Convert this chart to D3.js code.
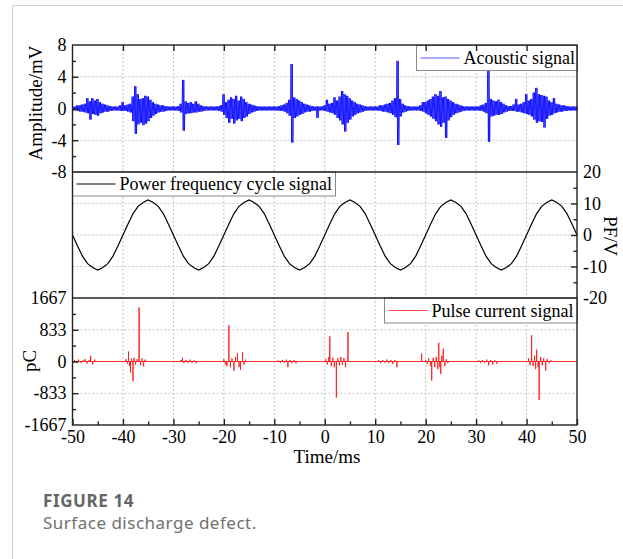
<!DOCTYPE html>
<html>
<head>
<meta charset="utf-8">
<script src="https://cdnjs.cloudflare.com/ajax/libs/d3/7.8.5/d3.min.js"></script>
<style>
  body { margin: 0; background: #fff; }
  svg { display: block; }
</style>
</head>
<body>
<script>
// tick values
const timeTicks = [-50, -40, -30, -20, -10, 0, 10, 20, 30, 40, 50];
const timeMinor = [-45, -35, -25, -15, -5, 5, 15, 25, 35, 45];
const ampTicks = [-8, -4, 0, 4, 8];
const ampMinor = [-6, -2, 2, 6];
const pfTicks = [-20, -10, 0, 10, 20];
const pfMinor = [-15, -5, 5, 15];
const pcTicks = [-1667, -833, 0, 833, 1667];
const pcMinor = [-1250, -417, 417, 1250];

// acoustic signal envelope, one pair per 0.5 ms bin from -50 to 50 ms (mV)
const acousticHi = [
  .25, .25, .4, .4, .5, .6, 1.3, .9, 1.3, 1.0, 1.2, .8, .6, .5, .4, .3, .25, .25, .25, .4,
  .8, .4, .5, .6, 1.5, 2.8, 1.8, 1.2, 1.3, 1.6, 1.5, 1.1, .8, .6, .5, .4, .4, .3, .25, .25,
  .25, .25, .3, .6, 3.6, .9, .7, .8, .6, .9, .6, .4, .3, .25, .25, .25, .25, .25, .3, .4,
  1.8, .8, 1.1, 1.4, 1.2, 1.6, 1.0, 1.5, 1.2, .8, .6, .5, .4, .3, .25, .25, .25, .25, .25, .25,
  .25, .25, .3, .4, .5, .7, 1.1, 5.6, 1.4, 1.2, 1.0, .8, .6, .5, .4, .3, .25, .25, .25, .25,
  .4, 1.1, .6, .7, 1.4, 1.0, 1.5, 2.2, 1.8, 1.6, 1.3, 1.0, .8, .6, .5, .4, .3, .25, .25, .25,
  .25, .25, .4, .4, .5, .6, .7, 1.0, 1.3, 6.0, 1.2, .6, .4, .3, .25, .25, .25, .25, .4, .8,
  .8, 1.0, 1.2, 1.5, 1.8, 1.6, 2.2, 1.4, 1.5, 1.2, 1.0, .8, .6, .5, .4, .3, .25, .25, .25, .25,
  .25, .25, .4, .5, .7, 4.9, 1.2, 1.0, .9, 1.1, .8, .6, .4, .3, .3, .5, 1.2, .5, .6, .8,
  1.8, 1.0, 1.2, 2.0, 2.6, 1.8, 1.7, 1.6, 1.5, 1.0, .8, 1.3, .6, .5, .4, .4, .3, .25, .25, .25, .25
];
const acousticLo = [
  -.25, -.25, -.3, -.4, -.4, -.5, -.6, -1.4, -.7, -.8, -.9, -.6, -.5, -.4, -.4, -.3, -.25, -.25, -.25, -.3,
  -.3, -.3, -.4, -.5, -1.6, -3.2, -2.0, -1.8, -2.1, -1.9, -1.6, -1.2, -.9, -.7, -.5, -.4, -.4, -.3, -.25, -.25,
  -.25, -.25, -.3, -.5, -2.8, -.7, -.6, -.6, -.5, -.5, -.4, -.4, -.3, -.25, -.25, -.25, -.25, -.25, -.3, -.4,
  -.8, -1.2, -1.8, -1.3, -1.9, -1.5, -1.3, -1.6, -1.2, -1.0, -.7, -.5, -.4, -.3, -.25, -.25, -.25, -.25, -.25, -.25,
  -.25, -.25, -.3, -.3, -.4, -.6, -.9, -4.3, -1.2, -1.0, -.8, -.7, -.5, -.4, -.4, -.3, -.25, -1.2, -.25, -.25,
  -.3, -.4, -.5, -.6, -.8, -1.2, -1.5, -2.0, -2.9, -1.8, -1.4, -1.0, -.8, -.6, -.5, -.4, -.3, -.25, -.25, -.25,
  -.25, -.25, -.3, -.4, -.4, -.5, -.6, -.8, -1.1, -4.6, -1.0, -.5, -.4, -.3, -.25, -.25, -.25, -.25, -.3, -.4,
  -.6, -.8, -1.0, -1.3, -1.6, -2.0, -2.3, -1.8, -3.7, -1.5, -1.1, -.8, -.6, -.5, -.4, -.3, -.25, -.25, -.25, -.25,
  -.25, -.25, -.3, -.4, -.6, -4.2, -1.0, -.9, -.8, -.8, -.7, -.5, -.4, -.3, -.3, -.3, -.4, -.4, -.5, -.6,
  -.7, -.8, -1.0, -1.4, -1.8, -1.6, -1.7, -2.4, -1.3, -.9, -.8, -.6, -.5, -.4, -.4, -.3, -.3, -.25, -.25, -.25, -.25
];

// power frequency cycle, one value per ms from -50 to 50 (V)
const pfValues = [
  0, -3.5, -6.8, -9.1, -10.3, -11.1, -10.3, -9.1, -6.8, -3.5,
  0, 3.5, 6.8, 9.1, 10.3, 11.1, 10.3, 9.1, 6.8, 3.5,
  0, -3.5, -6.8, -9.1, -10.3, -11.1, -10.3, -9.1, -6.8, -3.5,
  0, 3.5, 6.8, 9.1, 10.3, 11.1, 10.3, 9.1, 6.8, 3.5,
  0, -3.5, -6.8, -9.1, -10.3, -11.1, -10.3, -9.1, -6.8, -3.5,
  0, 3.5, 6.8, 9.1, 10.3, 11.1, 10.3, 9.1, 6.8, 3.5,
  0, -3.5, -6.8, -9.1, -10.3, -11.1, -10.3, -9.1, -6.8, -3.5,
  0, 3.5, 6.8, 9.1, 10.3, 11.1, 10.3, 9.1, 6.8, 3.5,
  0, -3.5, -6.8, -9.1, -10.3, -11.1, -10.3, -9.1, -6.8, -3.5,
  0, 3.5, 6.8, 9.1, 10.3, 11.1, 10.3, 9.1, 6.8, 3.5,
  0
];

// pulse current spikes (ms, pC)
const pulseTimes = [
  -49.6, -49.2, -48.8, -48.3, -47.9, -47.5, -47.1, -46.7, -46.4, -46.0, -45.6,
  -39.4, -39.1, -38.9, -38.7, -38.5, -38.3, -38.0, -37.8, -37.5, -37.2, -36.8, -36.5, -36.2, -35.9, -35.6,
  -28.5, -28.2, -27.9, -27.5, -27.1, -26.7, -26.3, -25.9, -25.5,
  -20.0, -19.7, -19.4, -19.0, -18.7, -18.4, -18.0, -17.7, -17.3, -17.0, -16.7, -16.3, -16.0, -15.7,
  -9.2, -8.8, -8.4, -8.0, -7.6, -7.3, -6.9, -6.5, -6.1, -5.7,
  0.2, 0.5, 0.8, 1.0, 1.3, 1.6, 1.9, 2.3, 2.6, 2.9, 3.2, 3.5, 3.8, 4.1, 4.6,
  10.7, 11.1, 11.5, 11.9, 12.3, 12.7, 13.1, 13.5, 13.9, 14.3,
  19.2, 20.0, 20.3, 20.6, 21.0, 21.2, 21.5, 21.8, 22.1, 22.4, 22.6, 22.8, 23.0, 23.2, 23.5, 23.8, 24.1, 24.4,
  30.5, 30.9, 31.3, 31.7, 32.1, 32.5, 32.9, 33.3, 33.7, 34.1,
  40.4, 40.7, 41.0, 41.3, 41.6, 41.8, 42.0, 42.3, 42.5, 42.8, 43.1, 43.4, 43.8, 44.1, 44.5, 44.8
];
const pulseValues = [
  40, -30, 50, -40, 30, 60, -50, 40, 150, -80, 50,
  60, -60, 260, -120, -290, 80, -520, 100, -80, 60, 1420, -100, 80, -130, 50,
  40, 100, -40, 40, -30, 50, -40, 30, -50,
  60, -80, -120, 950, -150, 80, -240, 120, 220, -150, -220, 240, -80, 50,
  30, -40, 40, -30, 50, -150, 40, -40, 30, -50,
  60, -80, 120, 660, -120, 100, -150, -945, 80, -100, 120, -80, 90, -150, 775,
  30, -40, 40, -30, 50, -40, 40, -60, 40, -150,
  210, 40, -60, 80, -120, -500, 100, -150, 120, -200, 490, -150, -325, 150, 335, -120, 60, -40,
  30, -40, 40, -30, 50, -100, 40, -80, 30, -60,
  80, -100, 690, -120, 150, -200, 310, -150, -1010, 120, -100, 80, -240, 60, -40, 30
];

const width = 623, height = 559;
const left = 72.5, right = 577;
const serif = '"Liberation Serif", "Times New Roman", serif';

const svg = d3.select('body').append('svg')
  .attr('width', width)
  .attr('height', height);

// page frame
svg.append('path')
  .attr('d', `M12.5,${height}V5.5H${width}`)
  .attr('fill', 'none')
  .attr('stroke', '#d0d0d0')
  .attr('stroke-width', 1);

const x = d3.scaleLinear().domain([-50, 50]).range([left, right]);
const yAmp = d3.scaleLinear().domain([-8, 8]).range([172, 45]);
const yPf = d3.scaleLinear().domain([-20, 20]).range([298, 172]);
const yPc = d3.scaleLinear().domain([-1667, 1667]).range([425, 298]);

// dotted grid
const grid = svg.append('g')
  .attr('stroke', '#c4c4c4')
  .attr('stroke-width', 1)
  .attr('stroke-dasharray', '2,2');
timeTicks.slice(1, -1).forEach(t => {
  grid.append('line')
    .attr('x1', x(t)).attr('x2', x(t))
    .attr('y1', 45).attr('y2', 425);
});
[[yAmp, ampTicks], [yPf, pfTicks], [yPc, pcTicks]].forEach(([y, ticks]) => {
  ticks.slice(1, -1).forEach(v => {
    grid.append('line')
      .attr('x1', left).attr('x2', right)
      .attr('y1', y(v)).attr('y2', y(v));
  });
});

// acoustic signal: dense zig-zag between the envelope values of each bin
const acousticTimes = d3.range(acousticHi.length).map(i => -50 + i * 0.5);
const acousticPts = [];
acousticTimes.forEach((t, i) => {
  acousticPts.push([t - 0.1875, acousticHi[i]]);
  acousticPts.push([t - 0.0625, acousticLo[i]]);
  acousticPts.push([t + 0.0625, acousticHi[i]]);
  acousticPts.push([t + 0.1875, acousticLo[i]]);
});
svg.append('path')
  .datum(acousticPts)
  .attr('fill', 'none')
  .attr('stroke', '#0000ff')
  .attr('stroke-width', 0.8)
  .attr('d', d3.line()
    .x(d => x(Math.max(-50, Math.min(50, d[0]))))
    .y(d => yAmp(d[1])));

// power frequency cycle
svg.append('path')
  .datum(pfValues)
  .attr('fill', 'none')
  .attr('stroke', '#000')
  .attr('stroke-width', 1.2)
  .attr('d', d3.line()
    .x((d, i) => x(-50 + i))
    .y(d => yPf(d)));

// pulse current: baseline with vertical spikes
const pulsePts = [[-50, 0]];
pulseTimes.forEach((t, i) => {
  pulsePts.push([t, 0], [t, pulseValues[i]], [t, 0]);
});
pulsePts.push([50, 0]);
svg.append('path')
  .datum(pulsePts)
  .attr('fill', 'none')
  .attr('stroke', '#ff1a1a')
  .attr('stroke-width', 0.9)
  .attr('d', d3.line()
    .x(d => x(d[0]))
    .y(d => yPc(d[1])));

// legends
function legend(x0, y0, w, h, color, label) {
  const g = svg.append('g');
  g.append('rect')
    .attr('x', x0).attr('y', y0)
    .attr('width', w).attr('height', h)
    .attr('fill', '#fff')
    .attr('stroke', '#8a8a8a')
    .attr('stroke-width', 1);
  g.append('line')
    .attr('x1', x0 + 4).attr('x2', x0 + 43)
    .attr('y1', y0 + h / 2).attr('y2', y0 + h / 2)
    .attr('stroke', color)
    .attr('stroke-width', 1);
  g.append('text')
    .attr('x', x0 + 47)
    .attr('y', y0 + h / 2 + 6)
    .attr('font-family', serif)
    .attr('font-size', 18)
    .attr('fill', '#000')
    .text(label);
}
legend(416.5, 45.5, 161, 25, '#5a5aff', 'Acoustic signal');
legend(72.5, 172, 263, 24, '#000', 'Power frequency cycle signal');
legend(384.5, 298, 193, 25, '#ff4a4a', 'Pulse current signal');

// panel frames
const frame = svg.append('g')
  .attr('fill', 'none')
  .attr('stroke', '#222')
  .attr('stroke-width', 1.4);
frame.append('rect')
  .attr('x', left).attr('y', 45)
  .attr('width', right - left).attr('height', 425 - 45);
frame.append('line').attr('x1', left).attr('x2', right).attr('y1', 172).attr('y2', 172);
frame.append('line').attr('x1', left).attr('x2', right).attr('y1', 298).attr('y2', 298);

// axes
function styleAxis(g) {
  g.select('.domain').remove();
  g.selectAll('.tick line').attr('stroke', '#222').attr('stroke-width', 1.4);
  g.selectAll('.tick text')
    .attr('font-family', serif)
    .attr('font-size', 18)
    .attr('fill', '#000');
}

// bottom time axis
svg.append('g')
  .attr('transform', 'translate(0,425)')
  .call(d3.axisBottom(x).tickValues(timeMinor).tickSize(-3.5).tickFormat(''))
  .call(styleAxis);
svg.append('g')
  .attr('transform', 'translate(0,425)')
  .call(d3.axisBottom(x).tickValues(timeTicks).tickSize(-6).tickPadding(5).tickFormat(d3.format('d')))
  .call(styleAxis)
  .call(g => g.selectAll('.tick text').text(d => d < 0 ? '-' + Math.abs(d) : d));

// top edge ticks
svg.append('g')
  .attr('transform', 'translate(0,45)')
  .call(d3.axisTop(x).tickValues(timeTicks.slice(1, -1)).tickSize(-6).tickFormat(''))
  .call(styleAxis);

function leftAxis(y, major, minor) {
  svg.append('g')
    .attr('transform', `translate(${left},0)`)
    .call(d3.axisLeft(y).tickValues(minor).tickSize(-3.5).tickFormat(''))
    .call(styleAxis);
  svg.append('g')
    .attr('transform', `translate(${left},0)`)
    .call(d3.axisLeft(y).tickValues(major).tickSize(-6).tickPadding(6))
    .call(styleAxis)
    .call(g => g.selectAll('.tick text').text(d => d < 0 ? '-' + Math.abs(d) : d))
    .call(g => g.selectAll('.tick line').filter(d => d === major[0] || d === major[major.length - 1]).remove());
}
leftAxis(yAmp, ampTicks, ampMinor);
leftAxis(yPc, pcTicks, pcMinor);

// right PF axis
svg.append('g')
  .attr('transform', `translate(${right},0)`)
  .call(d3.axisRight(yPf).tickValues(pfMinor).tickSize(-3.5).tickFormat(''))
  .call(styleAxis);
svg.append('g')
  .attr('transform', `translate(${right},0)`)
  .call(d3.axisRight(yPf).tickValues(pfTicks).tickSize(-6).tickPadding(6))
  .call(styleAxis)
  .call(g => g.selectAll('.tick text').text(d => d < 0 ? '-' + Math.abs(d) : d))
  .call(g => g.selectAll('.tick line').filter(d => d === 20 || d === -20).remove());

// axis titles
svg.append('text')
  .attr('transform', 'translate(42,103) rotate(-90)')
  .attr('text-anchor', 'middle')
  .attr('font-family', serif)
  .attr('font-size', 19)
  .text('Amplitude/mV');
svg.append('text')
  .attr('transform', 'translate(36,361) rotate(-90)')
  .attr('text-anchor', 'middle')
  .attr('font-family', serif)
  .attr('font-size', 19)
  .text('pC');
svg.append('text')
  .attr('transform', 'translate(604,236) rotate(90)')
  .attr('text-anchor', 'middle')
  .attr('font-family', serif)
  .attr('font-size', 19)
  .text('PF/V');
svg.append('text')
  .attr('x', 327)
  .attr('y', 463)
  .attr('text-anchor', 'middle')
  .attr('font-family', serif)
  .attr('font-size', 19)
  .text('Time/ms');

// caption
svg.append('text')
  .attr('x', 43)
  .attr('y', 507)
  .attr('font-family', '"Noto Sans", sans-serif')
  .attr('font-weight', 'bold')
  .attr('font-size', 17)
  .attr('letter-spacing', 0.6)
  .attr('fill', '#666')
  .text('FIGURE 14');
svg.append('text')
  .attr('x', 43)
  .attr('y', 529)
  .attr('font-family', '"Noto Sans", sans-serif')
  .attr('font-size', 17)
  .attr('letter-spacing', 0.5)
  .attr('fill', '#707070')
  .text('Surface discharge defect.');
</script>
</body>
</html>
